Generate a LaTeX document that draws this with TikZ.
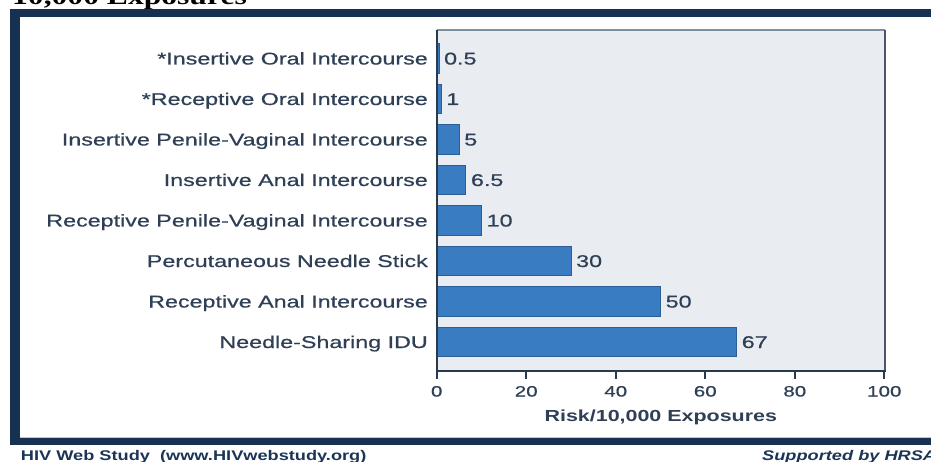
\documentclass[tikz,border=0pt]{standalone}
\usepackage{fontspec}
\newfontfamily\labfont[FakeStretch=1.37,FakeBold=0.6]{Liberation Sans}
\newfontfamily\labbold[FakeStretch=1.34]{Liberation Sans}
\newfontfamily\footfont[FakeStretch=1.3]{Liberation Sans}
\newfontfamily\ttlfont[FakeStretch=1.3]{Liberation Serif}
\definecolor{framenavy}{HTML}{163152}
\definecolor{footnavy}{HTML}{1B3556}
\definecolor{labtext}{HTML}{2E3F56}
\definecolor{plotbg}{HTML}{E9EDF1}
\definecolor{barfill}{HTML}{3A7CC2}
\definecolor{baredge}{HTML}{2C5E96}
\definecolor{axiscol}{HTML}{2A3A4E}
\definecolor{topline}{HTML}{7F8E9F}
\tikzset{
  catlabel/.style={anchor=base east, inner sep=0pt, text=labtext, font=\labfont\fontsize{17}{17}\selectfont},
  vallabel/.style={anchor=base west, inner sep=0pt, text=labtext, font=\labfont\fontsize{17}{17}\selectfont},
  ticklabel/.style={anchor=base, inner sep=0pt, text=labtext, font=\labfont\fontsize{15}{15}\selectfont},
  axtitle/.style={anchor=base, inner sep=0pt, text=labtext, font=\labbold\bfseries\fontsize{16}{16}\selectfont},
  foottext/.style={anchor=base west, inner sep=0pt, text=footnavy, font=\footfont\bfseries\fontsize{14}{14}\selectfont},
  barrect/.style={fill=barfill, draw=baredge, line width=0.8pt},
  axisline/.style={draw=axiscol, line width=2pt},
}
\begin{document}
\begin{tikzpicture}[x=1pt,y=-1pt]
\useasboundingbox (0,0) rectangle (931,462);
\fill[white] (0,0) rectangle (931,462);
% cut-off title
\begin{scope}
\clip (0,0) rectangle (931,9);
\node[anchor=base west, inner sep=0pt, text=black, font=\ttlfont\bfseries\fontsize{24.3}{24.3}\selectfont] (title) at (12,4.5) {10,000 Exposures};
\end{scope}
% navy frame
\fill[framenavy] (10,9) rectangle (931,445);
\fill[white] (20,17) rectangle (931,437);
\draw[topline!50, line width=0.6pt] (20,437) -- (931,437);
% plot area
\fill[plotbg] (436.7,30) rectangle (885,371);
\draw[topline, line width=1.3pt] (436.7,30) -- (885,30);
\draw[axiscol!85, line width=2pt] (885,30) -- (885,371);
% bars and labels
\foreach \v/\lab [count=\i from 0] in {0.5/{*Insertive Oral Intercourse},1/{*Receptive Oral Intercourse},5/{Insertive Penile-Vaginal Intercourse},6.5/{Insertive Anal Intercourse},10/{Receptive Penile-Vaginal Intercourse},30/{Percutaneous Needle Stick},50/{Receptive Anal Intercourse},67/{Needle-Sharing IDU}}{
  \pgfmathsetmacro\yc{58.5+40.5*\i}
  \pgfmathsetmacro\xe{436.7+4.476*\v}
  \draw[barrect] (436.7,\yc-14.75) rectangle (\xe,\yc+14.75);
  \node[catlabel] (cat\i) at (428,\yc+6) {\lab};
  \node[vallabel] (val\i) at (\xe+5,\yc+6) {\v};
}
% axes
\draw[axisline] (436.7,30) -- (436.7,372);
\draw[axisline] (435.7,371) -- (886,371);
\foreach \k [count=\j from 0] in {0,20,40,60,80,100}{
  \pgfmathsetmacro\xt{436.7+4.476*\k}
  \draw[axisline] (\xt,371) -- (\xt,379);
  \node[ticklabel] (tick\j) at (\xt,396.5) {\k};
}
\node[axtitle] (xtitle) at (660.8,421.5) {Risk/10,000 Exposures};
% footer
\node[foottext] (source) at (20.7,460) {HIV Web Study\ \ (www.HIVwebstudy.org)};
\node[foottext, font=\footfont\bfseries\itshape\fontsize{14}{14}\selectfont] (support) at (762,460) {Supported by HRSA};
\end{tikzpicture}
\end{document}
